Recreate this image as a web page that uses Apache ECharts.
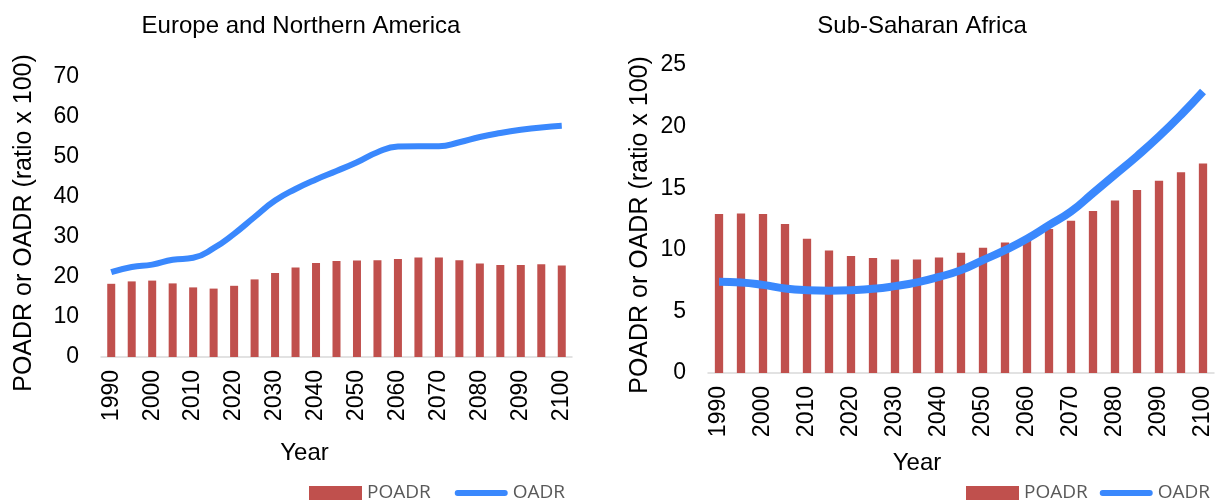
<!DOCTYPE html>
<html>
<head>
<meta charset="utf-8">
<script src="https://cdn.jsdelivr.net/npm/echarts@6/dist/echarts.min.js"></script>
<style>
  html, body { margin: 0; padding: 0; background: #fff; }
  #main { width: 1217px; height: 502px; }
</style>
</head>
<body>
<div id="main"></div>
<script>
var years = ['1990','1995','2000','2005','2010','2015','2020','2025','2030','2035','2040','2045',
             '2050','2055','2060','2065','2070','2075','2080','2085','2090','2095','2100'];

// Europe and Northern America
var euPoadr = [18.3,18.9,19.1,18.4,17.4,17.1,17.8,19.4,21.0,22.4,23.5,24.0,
               24.1,24.2,24.5,24.9,24.9,24.2,23.4,23.0,23.0,23.2,22.9];
var euOadr  = [21.2,22.5,23.1,24.3,24.8,27.2,30.8,35.0,39.1,42.0,44.4,46.5,
               48.7,51.2,52.6,52.7,52.7,53.7,55.0,56.0,56.8,57.4,57.8];

// Sub-Saharan Africa
var ssaPoadr = [12.9,12.95,12.9,12.1,10.9,9.95,9.5,9.33,9.22,9.22,9.38,9.76,
                10.16,10.6,10.95,11.68,12.36,13.15,14.0,14.85,15.6,16.3,17.0];
var ssaOadr  = [7.4,7.35,7.15,6.86,6.72,6.68,6.72,6.83,7.05,7.35,7.8,8.35,
                9.16,9.97,10.9,12.0,13.1,14.6,16.1,17.6,19.2,20.95,22.85];

var barColor = '#c0504d';
var lineColor = '#3a88fd';
var font = 'Liberation Sans';
var lineIcon = 'path://M3,0 L51,0 A3,3 0 0 1 51,6 L3,6 A3,3 0 0 1 3,0 Z';

var myChart = echarts.init(document.getElementById('main'));

var xAxisBase = function(gridIndex, gap, shift){
	return {
		type: 'category',
		gridIndex: gridIndex,
		data: years,
		name: 'Year',
		nameLocation: 'middle',
		nameGap: gap,
		nameTextStyle: { fontFamily: font, fontSize: 24, color: '#000', padding: [0, shift, 0, 0] },
		axisLine: { lineStyle: { color: '#d9d9d9', width: 1.5 } },
		axisTick: { show: false },
		axisLabel: { interval: 1, rotate: 90, fontFamily: font, fontSize: 23, color: '#000', margin: 13 }
	};
};

var yAxisBase = function(gridIndex, max, interval, gap){
	return {
		type: 'value',
		gridIndex: gridIndex,
		min: 0,
		max: max,
		interval: interval,
		name: 'POADR or OADR (ratio x 100)',
		nameLocation: 'middle',
		nameGap: gap,
		nameTextStyle: { fontFamily: font, fontSize: 25, color: '#000', padding: [0,12,0,0] },
		axisLine: { show: false },
		axisTick: { show: false },
		splitLine: { show: false },
		axisLabel: { fontFamily: font, fontSize: 23, color: '#000', margin: 22 }
	};
};

var legendBase = function(left, gap){
	return {
		left: left, top: 477, itemGap: gap, itemWidth: 53, itemHeight: 14,
		textStyle: { fontFamily: 'Open Sans', fontSize: 19, lineHeight: 22, color: '#595959' },
		data: [{ name: 'POADR', icon: 'rect' }, { name: 'OADR', icon: lineIcon }]
	};
};

var option = {
	backgroundColor: '#fff',
	animation: false,
	title: [
		{ text: 'Europe and Northern America', left: 296, top: 9, textAlign: 'center',
		  textStyle: { fontFamily: font, fontSize: 24, fontWeight: 'normal', color: '#000' } },
		{ text: 'Sub-Saharan Africa', left: 917, top: 9, textAlign: 'center',
		  textStyle: { fontFamily: font, fontSize: 24, fontWeight: 'normal', color: '#000' } }
	],
	legend: [ legendBase(304, 24), legendBase(961, 12) ],
	grid: [
		{ left: 101, top: 77, width: 471, height: 280 },
		{ left: 708, top: 65, width: 506, height: 308 }
	],
	xAxis: [ xAxisBase(0, 84, 64), xAxisBase(1, 78, 88) ],
	yAxis: [ yAxisBase(0, 70, 10, 64), yAxisBase(1, 25, 5, 55) ],
	series: [
		{ name: 'POADR', type: 'bar', xAxisIndex: 0, yAxisIndex: 0, data: euPoadr,
		  barWidth: 8, itemStyle: { color: barColor } },
		{ name: 'OADR', type: 'line', xAxisIndex: 0, yAxisIndex: 0, data: euOadr,
		  smooth: true, symbol: 'none', lineStyle: { color: lineColor, width: 6 }, itemStyle: { color: lineColor } },
		{ name: 'POADR', type: 'bar', xAxisIndex: 1, yAxisIndex: 1, data: ssaPoadr,
		  barWidth: 8.3, itemStyle: { color: barColor } },
		{ name: 'OADR', type: 'line', xAxisIndex: 1, yAxisIndex: 1, data: ssaOadr,
		  smooth: true, symbol: 'none', lineStyle: { color: lineColor, width: 8 }, itemStyle: { color: lineColor } }
	]
};

myChart.setOption(option);
</script>
</body>
</html>
